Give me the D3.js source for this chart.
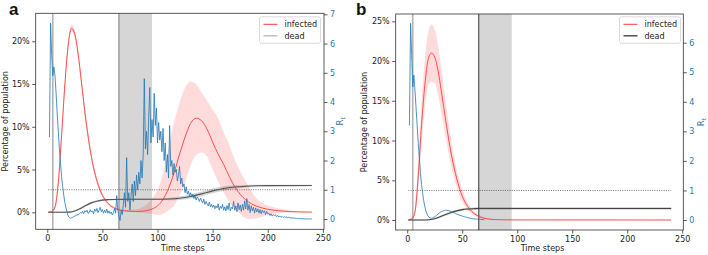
<!DOCTYPE html>
<html>
<head>
<meta charset="utf-8">
<script src="https://cdn.jsdelivr.net/npm/d3@7"></script>
<style>
  html, body { margin: 0; padding: 0; background: #fff; }
  svg { display: block; font-family: "DejaVu Sans", sans-serif; }
  .tick text { font-size: 8px; }
</style>
</head>
<body>
<svg id="chart" width="708" height="255"></svg>
<script>
// ---- panel a: infected / dead (percent of population), sampled time steps
const tA = [1, 4, 7, 10, 13, 16, 19, 22, 25, 28, 31, 35, 40, 45, 50, 55, 60, 65, 70, 75, 80, 85, 90, 95,
  100, 105, 110, 115, 120, 125, 130, 135, 140, 145, 150, 155, 160, 165, 170, 175, 180, 185, 190, 195,
  200, 210, 220, 230, 240];
const infectedA = [0.02, 0.1, 0.6, 3.5, 9, 15, 19.6, 21.5, 20.8, 18.5, 15.2, 10.8, 6.5, 3.7, 2.0, 1.05, 0.55, 0.3, 0.18, 0.12, 0.1, 0.12, 0.2, 0.38,
  0.75, 1.5, 2.8, 4.6, 6.8, 8.8, 10.4, 11.0, 10.7, 9.7, 8.2, 6.8, 5.6, 4.2, 3.0, 2.1, 1.45, 1.0, 0.7, 0.5,
  0.35, 0.18, 0.08, 0.04, 0.02];
const infectedLoA = [0.01, 0.08, 0.4, 2.8, 8.2, 14.3, 19.1, 21.1, 20.3, 18.0, 14.6, 10.2, 6.0, 3.3, 1.7, 0.85, 0.4, 0.2, 0.1, 0.05, 0.0, -0.05, -0.1, -0.2,
  -0.3, -0.2, 0.2, 0.8, 2.0, 3.5, 5.5, 6.7, 7.0, 6.5, 5.0, 3.6, 2.3, 1.2, 0.4, -0.2, -0.7, -0.8, -0.7, -0.5,
  -0.35, -0.1, 0.0, 0.0, 0.0];
const infectedHiA = [0.03, 0.15, 0.9, 4.3, 9.9, 15.8, 20.2, 22.0, 21.3, 19.1, 15.8, 11.4, 7.0, 4.1, 2.3, 1.25, 0.7, 0.45, 0.3, 0.3, 0.35, 0.5, 0.9, 1.6,
  2.6, 4.5, 7.5, 10.5, 12.8, 14.6, 15.3, 15.0, 14.0, 13.0, 12.0, 11.0, 9.3, 7.9, 6.2, 4.8, 3.6, 2.5, 1.6, 1.1,
  0.8, 0.45, 0.22, 0.1, 0.05];

const tDeadA = [1, 15, 20, 25, 30, 35, 40, 45, 50, 55, 60, 80, 100, 110, 120, 130, 140, 150, 160, 170, 180, 190, 200, 240];
const deadA = [0, 0, 0.02, 0.15, 0.45, 0.8, 1.1, 1.3, 1.42, 1.48, 1.5, 1.52, 1.53, 1.56, 1.65, 1.85, 2.15, 2.5, 2.78, 2.95, 3.05, 3.1, 3.12, 3.13];
const deadLoA = [-0.08, -0.08, -0.06, 0.05, 0.33, 0.68, 0.98, 1.2, 1.33, 1.4, 1.42, 1.44, 1.44, 1.42, 1.45, 1.6, 1.88, 2.22, 2.52, 2.75, 2.9, 2.98, 3.02, 3.05];
const deadHiA = [0.08, 0.08, 0.1, 0.25, 0.57, 0.92, 1.22, 1.4, 1.51, 1.56, 1.58, 1.6, 1.62, 1.7, 1.85, 2.1, 2.42, 2.78, 3.04, 3.15, 3.2, 3.22, 3.22, 3.21];

// reproduction number R_t, one value per step from t = 2
const rtA = [
  2.8, 6.7, 5.6, 4.9, 5.2, 4.9, 4.3, 3.6, 3.0,
  2.4, 1.9, 1.45, 1.1, 0.8, 0.55, 0.38, 0.22, 0.1, 0.05,
  0.03, 0.04, 0.06, 0.08, 0.1, 0.12, 0.15, 0.13, 0.18, 0.22,
  0.2, 0.26, 0.18, 0.28, 0.24, 0.3, 0.2, 0.22, 0.32, 0.24,
  0.28, 0.18, 0.34, 0.26, 0.36, 0.22, 0.3, 0.4, 0.25, 0.32,
  0.2, 0.3, 0.22, 0.34, 0.2, 0.28, 0.18, 0.24, 0.14, 0.22,
  0.36, 0.2, 0.8, 0.3, 0.1, -0.05, 0.3, 0.15, 0.5, 0.9,
  0.4, 2.1, 0.6, 0.9, 0.3, 0.8, 1.2, 0.6, 1.3, 0.8,
  1.5, 1.0, 1.6, 1.2, 2.0, 1.4, 2.2, 4.8, 2.4, 3.0,
  2.2, 3.5, 4.5, 2.6, 3.4, 2.8, 4.3, 3.2, 3.8, 2.6,
  3.3, 2.7, 3.0, 2.3, 3.1, 2.0, 2.6, 1.6, 2.2, 1.4,
  3.2, 1.8, 2.0, 1.5, 1.9, 1.6, 1.7, 1.3, 1.5, 1.8,
  1.2, 1.4, 1.1, 1.2, 0.9, 1.1, 0.85, 0.95, 0.8, 0.9,
  0.75, 0.85, 0.7, 0.8, 0.65, 0.75, 0.7, 0.6, 0.72, 0.62,
  0.55, 0.68, 0.5, 0.6, 0.52, 0.45, 0.58, 0.42, 0.5, 0.4,
  0.48, 0.35, 0.45, 0.38, 0.52, 0.3, 0.44, 0.36, 0.5, 0.3,
  0.42, 0.28, 0.46, 0.32, 0.55, 0.28, 0.4, 0.35, 0.6, 0.3,
  0.45, 0.25, 0.55, 0.32, 0.48, 0.26, 0.5, 0.3, 0.62, 0.34,
  0.7, 0.3, 0.5, 0.22, 0.45, 0.28, 0.4, 0.2, 0.38, 0.24,
  0.35, 0.2, 0.32, 0.18, 0.3, 0.22, 0.28, 0.15, 0.26, 0.18,
  0.2, 0.12, 0.18, 0.1, 0.15, 0.12, 0.14, 0.08, 0.12, 0.07,
  0.1, 0.06, 0.09, 0.05, 0.08, 0.06, 0.07, 0.04, 0.06, 0.04,
  0.04, 0.03, 0.04, 0.02, 0.03, 0.02, 0.02, 0.01, 0.02, 0.01,
  0.01, 0.01, 0.0, 0.01, 0.0, 0.0, 0.01, 0.0, 0.0, 0.0
];

// ---- panel b
const tB = [1, 4, 7, 10, 13, 16, 19, 22, 25, 28, 31, 35, 40, 45, 50, 55, 60, 65, 70, 75, 80, 90, 100, 240];
const infectedB = [0.02, 0.15, 1.0, 5.5, 12, 17, 20.2, 21.0, 20.5, 18.8, 16.2, 12.5, 8.3, 5.2, 3.0, 1.7, 0.9, 0.45, 0.22, 0.1, 0.05, 0.02, 0.01, 0];
const infectedLoB = [0.01, 0.1, 0.6, 4.0, 9.5, 14.0, 16.9, 17.4, 17.2, 15.7, 13.4, 10.3, 6.8, 4.1, 2.3, 1.25, 0.65, 0.3, 0.14, 0.06, 0.03, 0.01, 0, 0];
const infectedHiB = [0.03, 0.25, 1.6, 7.5, 14.8, 20.3, 23.6, 24.6, 24.0, 22.0, 19.2, 14.9, 10.0, 6.4, 3.8, 2.2, 1.2, 0.65, 0.35, 0.17, 0.09, 0.04, 0.02, 0];

const tDeadB = [1, 15, 20, 25, 30, 35, 40, 45, 50, 55, 60, 65, 240];
const deadB = [0, 0, 0.03, 0.15, 0.4, 0.7, 0.95, 1.15, 1.3, 1.38, 1.42, 1.45, 1.45];
const deadLoB = [-0.08, -0.08, -0.05, 0.06, 0.28, 0.56, 0.8, 1.0, 1.14, 1.22, 1.26, 1.28, 1.28];
const deadHiB = [0.08, 0.08, 0.1, 0.24, 0.52, 0.84, 1.1, 1.3, 1.46, 1.54, 1.58, 1.62, 1.62];

const rtB = [
  3.2, 6.65, 5.6, 4.5, 4.9, 4.4, 3.8, 3.2, 2.6,
  2.1, 1.6, 1.2, 0.9, 0.65, 0.45, 0.3, 0.2, 0.13, 0.09,
  0.07, 0.06, 0.07, 0.09, 0.11, 0.14, 0.17, 0.2, 0.23, 0.26,
  0.28, 0.3, 0.31, 0.32, 0.33, 0.33, 0.32, 0.31, 0.3, 0.28,
  0.27, 0.25, 0.24, 0.22, 0.2, 0.19, 0.17, 0.16, 0.15, 0.13,
  0.12, 0.11, 0.1, 0.09, 0.08, 0.07, 0.06, 0.05, 0.045, 0.04,
  0.035, 0.03, 0.03, 0.025, 0.02, 0.02, 0.02, 0.015, 0.01, 0.01
];

const xTicks = [0, 50, 100, 150, 200, 250];
const pctTicksA = [0, 5, 10, 15, 20];
const pctTicksB = [0, 5, 10, 15, 20, 25];
const rtTicksA = [0, 1, 2, 3, 4, 5, 6, 7];
const rtTicksB = [0, 1, 2, 3, 4, 5, 6];
const legendLabels = ["infected", "dead"];

const BLUE = "#1f77b4";
const RED = "#ff3b3b";
const svg = d3.select("#chart");

function drawPanel(p) {
  const { box } = p;
  const x = d3.scaleLinear().domain([-10.5, 251]).range([box.left, box.right]);
  const y = d3.scaleLinear().domain(p.pctDomain).range([box.bottom, box.top]);
  const yR = d3.scaleLinear().domain(p.rtDomain).range([box.bottom, box.top]);

  const g = svg.append("g");
  const clipId = "clip-" + p.name;
  svg.append("clipPath").attr("id", clipId)
    .append("rect")
    .attr("x", box.left).attr("y", box.top)
    .attr("width", box.right - box.left).attr("height", box.bottom - box.top);
  const plot = g.append("g").attr("clip-path", `url(#${clipId})`);

  // intervention span and markers
  plot.append("rect")
    .attr("x", x(65)).attr("y", box.top)
    .attr("width", x(95) - x(65)).attr("height", box.bottom - box.top)
    .attr("fill", "#d6d6d6");
  plot.append("line")
    .attr("x1", x(5)).attr("x2", x(5)).attr("y1", box.top).attr("y2", box.bottom)
    .attr("stroke", "#b4b4b4").attr("stroke-width", 1.6);
  plot.append("line")
    .attr("x1", x(65)).attr("x2", x(65)).attr("y1", box.top).attr("y2", box.bottom)
    .attr("stroke", p.markColor).attr("stroke-width", 1.2);

  // bands
  const infRows = p.t.map((t, i) => ({ t, m: p.inf[i], lo: p.infLo[i], hi: p.infHi[i] }));
  const deadRows = p.tDead.map((t, i) => ({ t, m: p.dead[i], lo: p.deadLo[i], hi: p.deadHi[i] }));
  const area = d3.area().x(d => x(d.t)).y0(d => y(d.lo)).y1(d => y(d.hi)).curve(d3.curveMonotoneX);
  const line = d3.line().x(d => x(d.t)).y(d => y(d.m)).curve(d3.curveMonotoneX);

  plot.append("path").datum(infRows).attr("d", area).attr("fill", "rgba(255,0,0,0.14)");
  plot.append("path").datum(deadRows).attr("d", area).attr("fill", "rgba(0,0,0,0.16)");

  // Rt dotted threshold
  plot.append("line")
    .attr("x1", x(1)).attr("x2", x(240)).attr("y1", yR(1)).attr("y2", yR(1))
    .attr("stroke", "#333").attr("stroke-width", 0.7).attr("stroke-dasharray", "1,1.3");

  plot.append("path").datum(infRows).attr("d", line)
    .attr("fill", "none").attr("stroke", RED).attr("stroke-width", 0.9);
  plot.append("path").datum(deadRows).attr("d", line)
    .attr("fill", "none").attr("stroke", p.deadColor).attr("stroke-width", 1.1);

  const rtLine = d3.line().x((d, i) => x(i + 2)).y(d => yR(d));
  plot.append("path").datum(p.rt).attr("d", rtLine)
    .attr("fill", "none").attr("stroke", BLUE).attr("stroke-width", 0.8);

  // axes
  const xAxis = g.append("g").attr("transform", `translate(0,${box.bottom})`)
    .call(d3.axisBottom(x).tickValues(xTicks).tickSize(3.5).tickPadding(2.5).tickSizeOuter(0));
  const yAxis = g.append("g").attr("transform", `translate(${box.left},0)`)
    .call(d3.axisLeft(y).tickValues(p.pctTicks).tickFormat(d => d + "%").tickSize(3.5).tickPadding(2.5).tickSizeOuter(0));
  const rAxis = g.append("g").attr("transform", `translate(${box.right},0)`)
    .call(d3.axisRight(yR).tickValues(p.rtTicks).tickSize(3.5).tickPadding(2.5).tickSizeOuter(0));
  [xAxis, yAxis, rAxis].forEach(a => {
    a.select(".domain").remove();
    a.selectAll(".tick line").attr("stroke", "#333").attr("stroke-width", 0.8);
    a.selectAll(".tick text").attr("fill", "#222").style("font-family", "DejaVu Sans");
  });
  rAxis.selectAll(".tick text").attr("fill", BLUE);

  g.append("rect")
    .attr("x", box.left).attr("y", box.top)
    .attr("width", box.right - box.left).attr("height", box.bottom - box.top)
    .attr("fill", "none").attr("stroke", "#333").attr("stroke-width", 0.8);

  // axis labels
  g.append("text")
    .attr("x", (box.left + box.right) / 2 + 3).attr("y", 251)
    .attr("text-anchor", "middle").attr("font-size", 8).attr("fill", "#222")
    .text("Time steps");
  g.append("text")
    .attr("transform", `translate(${p.leftLabelX},${(box.top + box.bottom) / 2}) rotate(-90)`)
    .attr("text-anchor", "middle").attr("font-size", 8).attr("fill", "#222")
    .text("Percentage of population");
  const rl = g.append("text")
    .attr("transform", `translate(${p.rightLabelX},${(box.top + box.bottom) / 2}) rotate(-90)`)
    .attr("text-anchor", "middle").attr("font-size", 8.5).attr("fill", BLUE);
  rl.append("tspan").text("R");
  rl.append("tspan").attr("font-size", 6).attr("dy", 2).text("t");

  // legend
  const lg = g.append("g").attr("transform", `translate(${p.legend[0]},${p.legend[1]})`);
  lg.append("rect").attr("width", 61).attr("height", 26.5).attr("rx", 2)
    .attr("fill", "rgba(255,255,255,0.85)").attr("stroke", "#d0d0d0").attr("stroke-width", 0.8);
  const legendColors = [RED, p.legendDead];
  legendLabels.forEach((lab, i) => {
    const ly = 7.5 + i * 11.5;
    lg.append("line").attr("x1", 4).attr("x2", 18).attr("y1", ly).attr("y2", ly)
      .attr("stroke", legendColors[i]).attr("stroke-width", i ? 1.4 : 1);
    lg.append("text").attr("x", 25).attr("y", ly + 3)
      .attr("font-size", 8).attr("fill", "#222").text(lab);
  });

  // panel letter
  svg.append("text")
    .attr("x", p.letterX).attr("y", 14.5)
    .attr("font-family", "Liberation Sans, Arial, sans-serif").attr("font-weight", "bold")
    .attr("font-size", 17).attr("fill", "#111").text(p.name);
}

drawPanel({
  name: "a",
  box: { left: 35.7, right: 324, top: 13.3, bottom: 229.3 },
  pctDomain: [-1.99, 23.27], rtDomain: [-0.352, 7.035],
  pctTicks: pctTicksA, rtTicks: rtTicksA,
  t: tA, inf: infectedA, infLo: infectedLoA, infHi: infectedHiA,
  tDead: tDeadA, dead: deadA, deadLo: deadLoA, deadHi: deadHiA,
  rt: rtA, deadColor: "#555", legendDead: "#bbb", markColor: "#8a8a8a",
  leftLabelX: 8, rightLabelX: 343, legend: [259.5, 16.8], letterX: 9
});

drawPanel({
  name: "b",
  box: { left: 395.7, right: 683.3, top: 14, bottom: 230 },
  pctDomain: [-1.26, 25.92], rtDomain: [-0.338, 6.97],
  pctTicks: pctTicksB, rtTicks: rtTicksB,
  t: tB, inf: infectedB, infLo: infectedLoB, infHi: infectedHiB,
  tDead: tDeadB, dead: deadB, deadLo: deadLoB, deadHi: deadHiB,
  rt: rtB, deadColor: "#444", legendDead: "#444", markColor: "#555",
  leftLabelX: 367, rightLabelX: 704, legend: [619.5, 16.8], letterX: 356
});
</script>
</body>
</html>
